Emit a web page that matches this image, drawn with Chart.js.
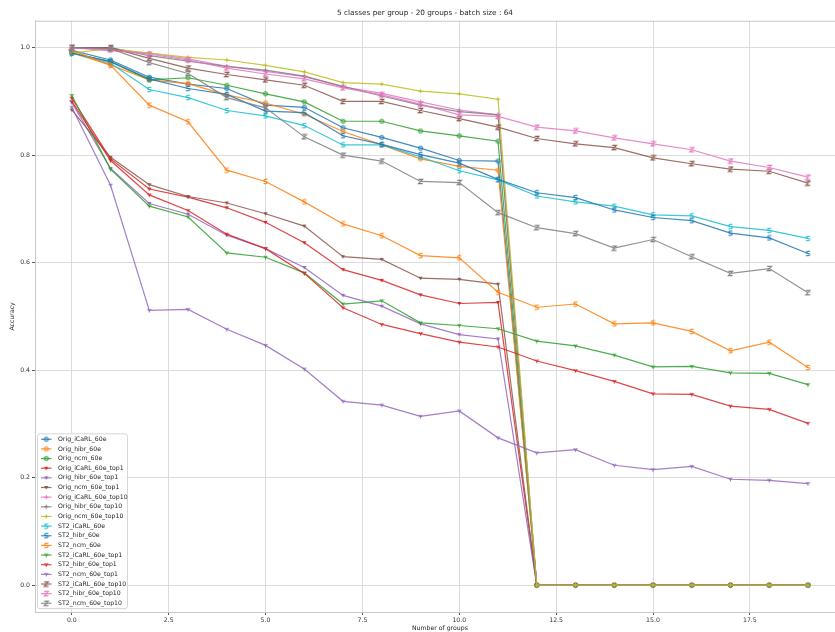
<!doctype html>
<html lang="en">

<head>
  <meta charset="utf-8" />
  <title>5 classes per group - 20 groups - batch size : 64</title>
  <style>
    body {
      margin: 0;
      background: #ffffff;
      overflow: hidden;
    }

    /* plot runs a little past the right edge of the window, like the saved figure */
    .chart_box {
      position: relative;
      width: 850px;
      height: 632px;
    }
  </style>
</head>

<body>
  <div class="chart_box">
    <canvas id="accChart"></canvas>
  </div>

  <script src="https://cdn.jsdelivr.net/npm/chart.js@4.4.0/dist/chart.umd.min.js"></script>
  <script>
    // Number of groups seen so far
    const groups = [0, 1, 2, 3, 4, 5, 6, 7, 8, 9, 10, 11, 12, 13, 14, 15, 16, 17, 18, 19];

    // Original runs (collapse after group 11)
    const origIcarl = [0.995, 0.977, 0.945, 0.932, 0.924, 0.893, 0.889, 0.851, 0.833, 0.813, 0.790, 0.789, 0, 0, 0, 0, 0, 0, 0, 0];
    const origHibr = [0.990, 0.968, 0.940, 0.933, 0.912, 0.897, 0.876, 0.844, 0.819, 0.793, 0.779, 0.772, 0, 0, 0, 0, 0, 0, 0, 0];
    const origNcm = [0.990, 0.974, 0.940, 0.944, 0.930, 0.914, 0.899, 0.863, 0.863, 0.845, 0.836, 0.826, 0, 0, 0, 0, 0, 0, 0, 0];
    const origIcarlTop1 = [0.906, 0.793, 0.737, 0.722, 0.702, 0.675, 0.637, 0.587, 0.567, 0.540, 0.524, 0.526, 0, 0, 0, 0, 0, 0, 0, 0];
    const origHibrTop1 = [0.898, 0.775, 0.710, 0.690, 0.651, 0.626, 0.591, 0.539, 0.519, 0.486, 0.466, 0.458, 0, 0, 0, 0, 0, 0, 0, 0];
    const origNcmTop1 = [0.884, 0.796, 0.745, 0.723, 0.711, 0.691, 0.668, 0.611, 0.606, 0.571, 0.569, 0.560, 0, 0, 0, 0, 0, 0, 0, 0];
    const origIcarlTop10 = [1.000, 0.994, 0.990, 0.979, 0.965, 0.956, 0.946, 0.927, 0.915, 0.899, 0.884, 0.875, 0, 0, 0, 0, 0, 0, 0, 0];
    const origHibrTop10 = [1.000, 1.000, 0.985, 0.975, 0.965, 0.958, 0.947, 0.928, 0.910, 0.893, 0.881, 0.875, 0, 0, 0, 0, 0, 0, 0, 0];
    const origNcmTop10 = [0.990, 0.998, 0.990, 0.982, 0.977, 0.967, 0.955, 0.935, 0.932, 0.919, 0.914, 0.904, 0, 0, 0, 0, 0, 0, 0, 0];

    // ST2 runs
    const st2Icarl = [0.990, 0.971, 0.922, 0.907, 0.883, 0.873, 0.855, 0.819, 0.819, 0.797, 0.771, 0.754, 0.724, 0.713, 0.705, 0.689, 0.687, 0.667, 0.660, 0.645];
    const st2Hibr = [0.990, 0.974, 0.942, 0.924, 0.913, 0.882, 0.879, 0.836, 0.820, 0.801, 0.785, 0.755, 0.730, 0.721, 0.698, 0.684, 0.678, 0.655, 0.646, 0.617];
    const st2Ncm = [0.995, 0.967, 0.893, 0.862, 0.772, 0.751, 0.713, 0.672, 0.650, 0.613, 0.609, 0.545, 0.517, 0.523, 0.486, 0.488, 0.472, 0.436, 0.452, 0.405];
    const st2IcarlTop1 = [0.911, 0.774, 0.705, 0.685, 0.618, 0.610, 0.581, 0.523, 0.529, 0.488, 0.483, 0.477, 0.454, 0.445, 0.428, 0.406, 0.407, 0.395, 0.394, 0.373];
    const st2HibrTop1 = [0.900, 0.790, 0.726, 0.697, 0.653, 0.626, 0.580, 0.516, 0.485, 0.468, 0.452, 0.443, 0.417, 0.399, 0.379, 0.356, 0.355, 0.333, 0.327, 0.301];
    const st2NcmTop1 = [0.889, 0.744, 0.511, 0.513, 0.476, 0.446, 0.402, 0.342, 0.335, 0.314, 0.324, 0.274, 0.246, 0.252, 0.223, 0.215, 0.221, 0.197, 0.195, 0.189];
    const st2IcarlTop10 = [1.000, 1.000, 0.980, 0.962, 0.950, 0.940, 0.930, 0.900, 0.900, 0.883, 0.868, 0.852, 0.831, 0.821, 0.814, 0.795, 0.784, 0.774, 0.770, 0.748];
    const st2HibrTop10 = [1.000, 0.996, 0.988, 0.977, 0.962, 0.951, 0.942, 0.925, 0.912, 0.895, 0.875, 0.872, 0.852, 0.845, 0.832, 0.821, 0.810, 0.789, 0.777, 0.759];
    const st2NcmTop10 = [1.000, 0.998, 0.972, 0.952, 0.907, 0.888, 0.834, 0.800, 0.789, 0.751, 0.749, 0.693, 0.665, 0.654, 0.627, 0.643, 0.611, 0.580, 0.589, 0.544];

    const xTicks = [0, 2.5, 5, 7.5, 10, 12.5, 15, 17.5];
    const yTicks = [0, 0.2, 0.4, 0.6, 0.8, 1.0];

    // tab10 cycle
    const tab10 = ["#1f77b4", "#ff7f0e", "#2ca02c", "#d62728", "#9467bd",
      "#8c564b", "#e377c2", "#7f7f7f", "#bcbd22", "#17becf"];

    const series = [
      ["Orig_iCaRL_60e", origIcarl, "o"],
      ["Orig_hibr_60e", origHibr, "o"],
      ["Orig_ncm_60e", origNcm, "o"],
      ["Orig_iCaRL_60e_top1", origIcarlTop1, "v"],
      ["Orig_hibr_60e_top1", origHibrTop1, "v"],
      ["Orig_ncm_60e_top1", origNcmTop1, "v"],
      ["Orig_iCaRL_60e_top10", origIcarlTop10, "+"],
      ["Orig_hibr_60e_top10", origHibrTop10, "+"],
      ["Orig_ncm_60e_top10", origNcmTop10, "+"],
      ["ST2_iCaRL_60e", st2Icarl, "s"],
      ["ST2_hibr_60e", st2Hibr, "s"],
      ["ST2_ncm_60e", st2Ncm, "s"],
      ["ST2_iCaRL_60e_top1", st2IcarlTop1, "y"],
      ["ST2_hibr_60e_top1", st2HibrTop1, "y"],
      ["ST2_ncm_60e_top1", st2NcmTop1, "y"],
      ["ST2_iCaRL_60e_top10", st2IcarlTop10, "z"],
      ["ST2_hibr_60e_top10", st2HibrTop10, "z"],
      ["ST2_ncm_60e_top10", st2NcmTop10, "z"],
    ];

    const withAlpha = (hex, a) => {
      const n = parseInt(hex.slice(1), 16);
      return `rgba(${n >> 16}, ${(n >> 8) & 255}, ${n & 255}, ${a})`;
    };

    // small hand-drawn markers, one canvas per series
    const makeMarker = (kind, color) => {
      const c = document.createElement("canvas");
      c.width = 7;
      c.height = 7;
      const g = c.getContext("2d");
      const m = 3.5, r = 2.1;
      g.strokeStyle = color;
      g.fillStyle = color;
      g.lineWidth = 0.9;
      g.beginPath();
      if (kind === "o") {
        g.arc(m, m, r, 0, Math.PI * 2);
        g.globalAlpha = 0.3;
        g.fill();
        g.globalAlpha = 1;
        g.stroke();
        return c;
      }
      if (kind === "v") {
        g.moveTo(m - r, m - r * 0.7);
        g.lineTo(m + r, m - r * 0.7);
        g.lineTo(m, m + r);
        g.closePath();
        g.fill();
        return c;
      }
      if (kind === "+") {
        g.moveTo(m - r, m);
        g.lineTo(m + r, m);
        g.moveTo(m, m - r);
        g.lineTo(m, m + r);
      } else if (kind === "y") {
        g.moveTo(m, m);
        g.lineTo(m, m + r);
        g.moveTo(m, m);
        g.lineTo(m - r * 0.87, m - r * 0.6);
        g.moveTo(m, m);
        g.lineTo(m + r * 0.87, m - r * 0.6);
      } else if (kind === "z") {
        g.moveTo(m - r, m - r);
        g.lineTo(m + r, m - r);
        g.lineTo(m - r, m + r);
        g.lineTo(m + r, m + r);
      } else if (kind === "s") {
        g.moveTo(m + r * 0.9, m - r);
        g.bezierCurveTo(m - r * 1.3, m - r * 1.3, m - r * 1.1, m, m, m);
        g.bezierCurveTo(m + r * 1.1, m, m + r * 1.3, m + r * 1.3, m - r * 0.9, m + r);
      }
      g.lineWidth = 1.1;
      g.stroke();
      return c;
    };

    const datasets = series.map(([label, values, kind], i) => {
      const color = tab10[i % 10];
      return {
        label,
        data: values.map((v, k) => ({ x: groups[k], y: v })),
        borderColor: withAlpha(color, 0.85),
        backgroundColor: color,
        borderWidth: 1.2,
        pointStyle: makeMarker(kind, color),
        pointRadius: 3,
        order: series.length - i,
      };
    });

    // legend box in the lower-left corner of the plot
    const cornerLegend = {
      id: "cornerLegend",
      afterDatasetsDraw(chart) {
        const { ctx, chartArea } = chart;
        const sets = chart.data.datasets;
        const rowH = 9.65;
        const boxX = chartArea.left + 2.5;
        const boxW = 90;
        const boxH = (sets.length - 1) * rowH + 10.7;
        const boxY = chartArea.bottom - 3.4 - boxH;
        ctx.save();
        ctx.fillStyle = "rgba(255,255,255,0.85)";
        ctx.strokeStyle = "#d6d6d6";
        ctx.lineWidth = 1;
        ctx.beginPath();
        ctx.roundRect(boxX, boxY, boxW, boxH, 2.5);
        ctx.fill();
        ctx.stroke();
        ctx.font = "6.2px 'DejaVu Sans', sans-serif";
        ctx.textBaseline = "middle";
        sets.forEach((ds, i) => {
          const y = boxY + 5.4 + rowH * i;
          ctx.strokeStyle = ds.borderColor;
          ctx.lineWidth = 1.2;
          ctx.beginPath();
          ctx.moveTo(boxX + 3.5, y);
          ctx.lineTo(boxX + 14, y);
          ctx.stroke();
          ctx.drawImage(ds.pointStyle, boxX + 8.75 - 3.5, y - 3.5);
          ctx.fillStyle = "#262626";
          ctx.fillText(ds.label, boxX + 20.5, y);
        });
        ctx.restore();
      },
    };

    // light frame on the top of the plot
    const topSpine = {
      id: "topSpine",
      beforeDatasetsDraw(chart) {
        const { ctx, chartArea } = chart;
        ctx.save();
        ctx.strokeStyle = "#c8c8c8";
        ctx.lineWidth = 1;
        ctx.beginPath();
        ctx.moveTo(chartArea.left, chartArea.top + 0.5);
        ctx.lineTo(chartArea.right, chartArea.top + 0.5);
        ctx.stroke();
        ctx.restore();
      },
    };

    Chart.defaults.font.family = "'DejaVu Sans', sans-serif";
    Chart.defaults.color = "#333333";

    new Chart(document.getElementById("accChart"), {
      type: "line",
      data: { datasets },
      plugins: [topSpine, cornerLegend],
      options: {
        responsive: true,
        maintainAspectRatio: false,
        animation: false,
        layout: { padding: 0 },
        plugins: {
          legend: { display: false },
          tooltip: { enabled: false },
          title: {
            display: true,
            text: "5 classes per group - 20 groups - batch size : 64",
            font: { size: 7.3, weight: "normal" },
            color: "#262626",
            padding: { top: 9, bottom: 3 },
          },
        },
        scales: {
          x: {
            type: "linear",
            min: -0.95,
            max: 19.95,
            afterBuildTicks: (axis) => {
              axis.ticks = xTicks.map((v) => ({ value: v }));
            },
            afterFit: (axis) => {
              axis.height = 20;
            },
            ticks: {
              font: { size: 6.2 },
              color: "#333333",
              padding: 1.5,
              maxRotation: 0,
              callback: (v) => v.toFixed(1),
            },
            grid: {
              color: "#dcdcdc",
              tickColor: "#555555",
              tickLength: 3,
            },
            border: { color: "#c8c8c8" },
            title: {
              display: true,
              text: "Number of groups",
              font: { size: 6.2 },
              color: "#262626",
              padding: 0,
            },
          },
          y: {
            min: -0.05,
            max: 1.05,
            afterBuildTicks: (axis) => {
              axis.ticks = yTicks.map((v) => ({ value: v }));
            },
            afterFit: (axis) => {
              axis.width = 35;
            },
            ticks: {
              font: { size: 6.2 },
              color: "#333333",
              padding: 2,
              callback: (v) => v.toFixed(1),
            },
            grid: {
              color: "#dcdcdc",
              tickColor: "#555555",
              tickLength: 3,
            },
            border: { color: "#c8c8c8" },
            title: {
              display: true,
              text: "Accuracy",
              font: { size: 6.2 },
              color: "#262626",
              padding: { top: 9, bottom: 0 },
            },
          },
        },
      },
    });
  </script>
</body>

</html>
